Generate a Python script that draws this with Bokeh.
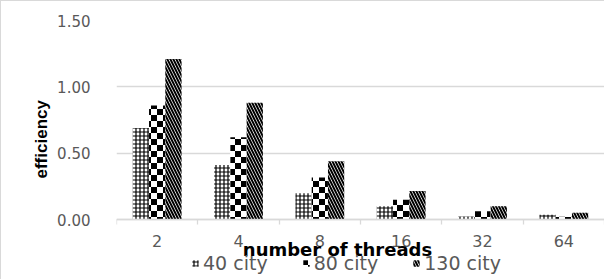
import struct, zlib, base64
import numpy as np
from bokeh.plotting import figure
from bokeh.models import (ColumnDataSource, Range1d, FixedTicker, NumeralTickFormatter,
                          Legend, LegendItem, ImageURLTexture, Label, Title)
from bokeh.core.properties import value
from bokeh.transform import dodge
from bokeh.embed import file_html
from bokeh.resources import INLINE

threads = ["2", "4", "8", "16", "32", "64"]
series_names = ["40 city", "80 city", "130 city"]
eff_40 = [0.69, 0.41, 0.198, 0.10, 0.023, 0.035]
eff_80 = [0.86, 0.62, 0.316, 0.148, 0.062, 0.02]
eff_130 = [1.21, 0.88, 0.44, 0.215, 0.10, 0.05]
y_ticks = [0.0, 0.5, 1.0, 1.5]

centers = np.arange(len(threads)) + 0.5
src = ColumnDataSource(dict(x=centers, e40=eff_40, e80=eff_80, e130=eff_130))

GRID = "#d9d9d9"
TXT = "#595959"


def checker_png(cell=6):
    size = 2 * cell
    rows = []
    for yy in range(size):
        row = bytearray([0])
        for xx in range(size):
            on = ((xx // cell) + (yy // cell)) % 2 == 0
            row += bytes([0, 0, 0, 255]) if on else bytes([255, 255, 255, 255])
        rows.append(bytes(row))
    raw = b"".join(rows)

    def chunk(tag, data):
        c = struct.pack(">I", len(data)) + tag + data
        return c + struct.pack(">I", zlib.crc32(tag + data) & 0xffffffff)

    png = (b"\x89PNG\r\n\x1a\n" + chunk(b"IHDR", struct.pack(">IIBBBBB", size, size, 8, 6, 0, 0, 0))
           + chunk(b"IDAT", zlib.compress(raw)) + chunk(b"IEND", b""))
    return "data:image/png;base64," + base64.b64encode(png).decode()


checker = ImageURLTexture(url=checker_png(6))

# frame: value axis occupies the top 199 px, the remaining 61 px hold labels/legend
FRAME_H = 260
AXIS_H = 199
y_top = y_ticks[-1]
y_bottom = -(FRAME_H - AXIS_H) / AXIS_H * y_top

p = figure(frame_width=488, frame_height=FRAME_H, output_backend="svg", toolbar_location=None,
           x_range=Range1d(0, len(threads)), y_range=Range1d(y_bottom, y_top),
           min_border_left=115, min_border_top=19, min_border_right=0, min_border_bottom=0)
p.outline_line_color = None
p.xgrid.grid_line_color = None
p.ygrid.grid_line_color = GRID
p.ygrid.grid_line_width = 1.3
p.styles = {"border-left": "1.5px solid #d9d9d9", "border-top": "1.5px solid #d9d9d9"}

w = 0.2
r40 = p.vbar(x=dodge("x", -w, range=p.x_range), top="e40", width=w, source=src,
             fill_color="white", line_color=None, hatch_pattern="+", hatch_color="black",
             hatch_scale=4, hatch_weight=1.2)
r80 = p.vbar(x=dodge("x", 0, range=p.x_range), top="e80", width=w, source=src,
             fill_color="white", line_color=None, hatch_pattern=value("checker"),
             hatch_extra={"checker": checker}, hatch_color="black", hatch_scale=12)
r130 = p.vbar(x=dodge("x", w, range=p.x_range), top="e130", width=w, source=src,
              fill_color="white", line_color=None, hatch_pattern="\\", hatch_color="black",
              hatch_scale=6, hatch_weight=2)

# axes
xa = p.xaxis[0]
xa.fixed_location = 0
xa.ticker = FixedTicker(ticks=list(centers), minor_ticks=list(range(len(threads) + 1)))
xa.major_label_overrides = {float(c): t for c, t in zip(centers, threads)}
xa.major_tick_out = 0
xa.major_tick_in = 0
xa.minor_tick_out = 5
xa.minor_tick_in = 0
xa.minor_tick_line_color = GRID
xa.minor_tick_line_width = 1.3
xa.axis_line_color = GRID
xa.axis_line_width = 1.3
xa.major_label_standoff = 10
xa.major_label_text_font = "DejaVu Sans"
xa.major_label_text_font_size = "16px"
xa.major_label_text_color = TXT

ya = p.yaxis[0]
ya.ticker = FixedTicker(ticks=y_ticks)
ya.formatter = NumeralTickFormatter(format="0.00")
ya.axis_line_color = None
ya.major_tick_line_color = None
ya.minor_tick_line_color = None
ya.major_label_standoff = 20
ya.major_label_text_font = "DejaVu Sans"
ya.major_label_text_font_size = "15px"
ya.major_label_text_color = TXT

ytitle = Title(text="efficiency", align="left", offset=102, standoff=8,
               text_font="Liberation Sans", text_font_style="bold", text_font_size="17px",
               text_color="black")
p.add_layout(ytitle, "left")

xtitle = Label(x=len(threads) / 2, y=0, x_offset=-23, y_offset=-30, text="number of threads",
               text_align="center", text_baseline="middle", text_font="DejaVu Sans",
               text_font_style="bold", text_font_size="18px", text_color="black")
p.add_layout(xtitle)

legend = Legend(items=[LegendItem(label=n, renderers=[r]) for n, r in zip(series_names, [r40, r80, r130])],
                orientation="horizontal", location=(75, 6))
legend.label_text_font = "DejaVu Sans"
legend.label_text_font_size = "19px"
legend.label_text_color = TXT
legend.glyph_width = 8
legend.glyph_height = 8
legend.label_standoff = 4
legend.spacing = 34
legend.label_height = 18
legend.border_line_color = None
legend.background_fill_alpha = 0
legend.padding = 0
legend.margin = 0
p.add_layout(legend, "center")

open("out.html", "w").write(file_html(p, INLINE))
